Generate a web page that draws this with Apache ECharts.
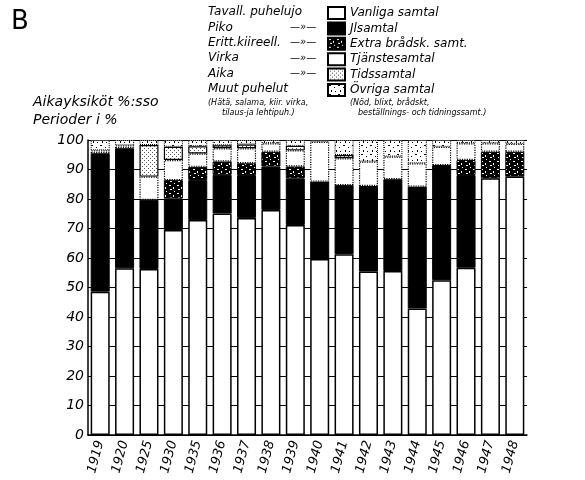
<!DOCTYPE html>
<html lang="fi">
<head>
    <meta charset="UTF-8">
    <title>Aikayksiköt</title>
    <script src="https://cdn.jsdelivr.net/npm/echarts@6/dist/echarts.min.js"></script>
</head>
<body style="margin:0;background:#fff">
    <div id="main" style="width:585px;height:480px;"></div>

    <script>
        // vuodet ja osuudet (%), luettu kuvasta
        var years = ['1919','1920','1925','1930','1935','1936','1937','1938','1939','1940','1941','1942','1943','1944','1945','1946','1947','1948'];
        var tavall = [48.6,56.5,56.3,69.5,72.9,75.1,73.6,76.3,71.2,59.7,61.3,55.4,55.6,42.9,52.5,56.7,87.0,87.6];
        var piko   = [46.9,40.7,23.4,10.7,13.5,13.1,14.5,14.7,15.8,26.2,23.4,29.0,31.1,41.3,39.0,31.4,0,0];
        var erit   = [0,0,0,6.2,4.5,4.5,4.0,5.0,4.0,0,0,0,0,0,0,5.1,9.0,8.4];
        var virka  = [1.0,1.0,7.9,6.8,4.5,4.5,5.1,2.9,5.5,13.5,9.1,8.3,7.7,7.9,6.2,5.7,2.9,2.7];
        var aika   = [0,0,10.7,4.5,2.5,1.0,1.3,0,1.5,0,1.1,0,0,0,0,0,0,0];
        var muut   = [3.5,1.8,1.7,2.3,2.1,1.8,1.5,1.1,2.0,0.6,5.1,7.3,5.6,7.9,2.3,1.1,1.1,1.3];

        var svNames = ['Vanliga samtal','Jlsamtal','Extra brådsk. samt.','Tjänstesamtal','Tidssamtal','Övriga samtal'];
        var fiNames = ['Tavall. puhelujo','Piko','Eritt.kiireell.','Virka','Aika','Muut puhelut'];
        var fiDitto = ['','—»—','—»—','—»—','—»—',''];

        var FONT = 'DejaVu Sans';
        var ROW = 15.4;

        // pienet kuviot täytöiksi
        function pattern(bg, fg, size, dots) {
            var c = document.createElement('canvas');
            c.width = size; c.height = size;
            var g = c.getContext('2d');
            g.fillStyle = bg; g.fillRect(0, 0, size, size);
            g.fillStyle = fg;
            dots.forEach(function (d) { g.fillRect(d[0], d[1], d[2] || 1, d[3] || 1); });
            return { image: c, repeat: 'repeat' };
        }
        var eritFill = pattern('#000', '#fff', 8, [[1,1,2,1],[5,3,1,2],[2,5,2,1],[6,7,1,1]]);
        var aikaFill = pattern('#fff', '#555', 4, [[0,0],[2,2]]);
        var muutFill = pattern('#fff', '#000', 9, [[1,1,2,1],[6,3,1,1],[3,6,1,2],[7,7,1,1]]);

        function nz(arr) { return arr.map(function (v) { return v ? v : '-'; }); }

        var styles = [
            { color: '#fff', borderColor: '#000', borderWidth: 1.5 },
            { color: '#000', borderColor: '#000', borderWidth: 1 },
            { color: eritFill, borderColor: '#000', borderWidth: 1 },
            { color: '#fff', borderColor: '#000', borderWidth: 1.2, borderType: 'dotted' },
            { color: aikaFill, borderColor: '#000', borderWidth: 1.2 },
            { color: muutFill, borderColor: '#000', borderWidth: 1, borderType: 'dotted' }
        ];
        var values = [tavall, piko, erit, virka, aika, muut];

        var series = values.map(function (arr, i) {
            return {
                name: svNames[i],
                type: 'bar',
                stack: 'all',
                barCategoryGap: '22%',
                itemStyle: styles[i],
                data: nz(arr)
            };
        });

        var graphic = [
            { type: 'text', left: 11, top: 9, style: { text: 'B', font: '26px "' + FONT + '"', fill: '#000' } },
            { type: 'text', left: 33, top: 95, style: { text: 'Aikayksiköt %:sso', font: 'italic 14px "' + FONT + '"', fill: '#000' } },
            { type: 'text', left: 33, top: 113, style: { text: 'Perioder i %', font: 'italic 14px "' + FONT + '"', fill: '#000' } },
            { type: 'text', left: 208, top: 99, style: { text: '(Hätä, salama, kiir. virka,', font: 'italic 8px "' + FONT + '"', fill: '#000' } },
            { type: 'text', left: 222, top: 109, style: { text: 'tilaus-ja lehtipuh.)', font: 'italic 8px "' + FONT + '"', fill: '#000' } },
            { type: 'text', left: 350, top: 99, style: { text: '(Nöd, blixt, brådskt,', font: 'italic 8px "' + FONT + '"', fill: '#000' } },
            { type: 'text', left: 358, top: 109, style: { text: 'beställnings- och tidningssamt.)', font: 'italic 8px "' + FONT + '"', fill: '#000' } }
        ];
        fiNames.forEach(function (t, i) {
            graphic.push({ type: 'text', left: 208, top: 6 + i * ROW, style: { text: t, font: 'italic 12px "' + FONT + '"', fill: '#000' } });
            if (fiDitto[i]) {
                graphic.push({ type: 'text', left: 290, top: 7 + i * ROW, style: { text: fiDitto[i], font: 'italic 10px "' + FONT + '"', fill: '#000' } });
            }
        });

        var myChart = echarts.init(document.getElementById('main'));
        var option = {
            animation: false,
            backgroundColor: '#fff',
            textStyle: { fontFamily: FONT },
            legend: {
                orient: 'vertical',
                left: 322,
                top: 1,
                icon: 'rect',
                itemWidth: 17,
                itemHeight: 12,
                itemGap: 1.4,
                selectedMode: false,
                textStyle: { fontStyle: 'italic', fontSize: 12, lineHeight: 13, color: '#000' },
                data: svNames
            },
            graphic: graphic,
            grid: { left: 88, right: 58, top: 140, bottom: 45 },
            xAxis: {
                type: 'category',
                data: years,
                axisLine: { lineStyle: { color: '#000', width: 1.5 } },
                axisTick: { show: false },
                axisLabel: { rotate: 75, color: '#000', fontStyle: 'italic', fontSize: 13, margin: 6 }
            },
            yAxis: {
                type: 'value',
                min: 0,
                max: 100,
                interval: 10,
                axisLine: { show: true, lineStyle: { color: '#000', width: 1.5 } },
                axisTick: { show: false },
                axisLabel: { color: '#000', fontStyle: 'italic', fontSize: 14, margin: 4 },
                splitLine: { lineStyle: { color: '#000', width: 1 } }
            },
            series: series
        };
        myChart.setOption(option);
    </script>
</body>
</html>
